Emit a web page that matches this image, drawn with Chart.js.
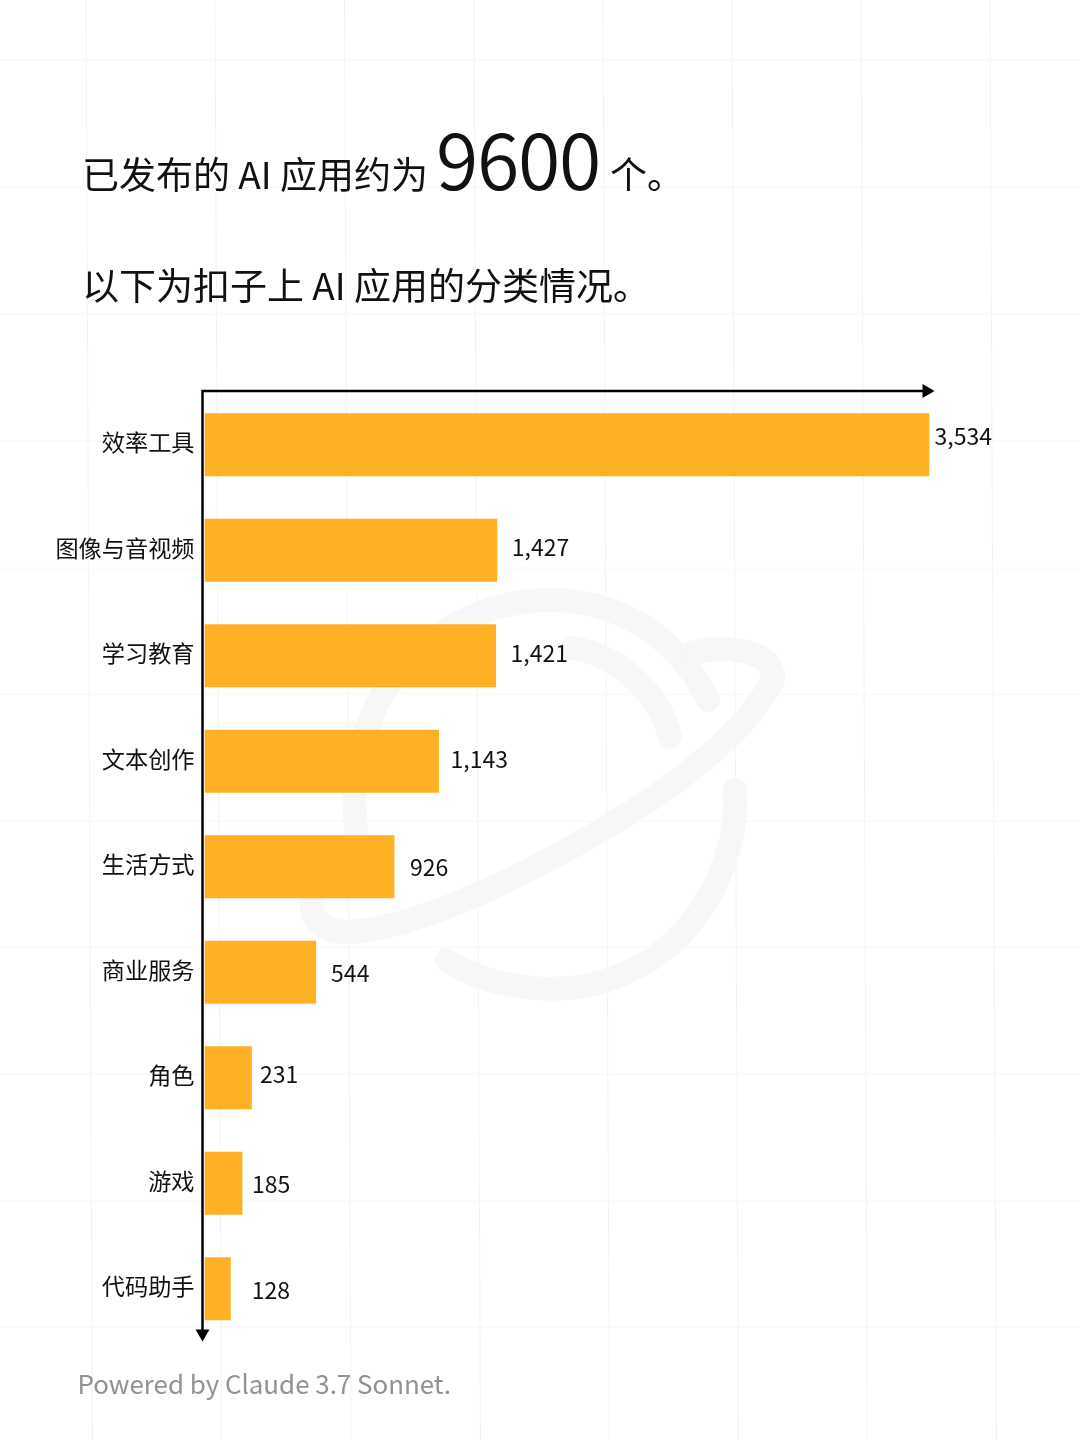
<!DOCTYPE html>
<html lang="zh">
<head>
<meta charset="utf-8">
<script src="https://cdn.jsdelivr.net/npm/chart.js@4"></script>
<style>
    html, body { margin: 0; padding: 0; background: #fff; }
    body { width: 1080px; height: 1440px; position: relative; overflow: hidden; font-family: "Noto Sans CJK SC", sans-serif; color: #111; }
    #bg { position: absolute; left: 0; top: 0; }
    #wrap { position: absolute; left: 0; top: 0; width: 1080px; height: 1440px; }
    .line { position: absolute; white-space: pre; line-height: 1; }
    #t1 { left: 82px; top: 155px; font-size: 37px; }
    #t2 { left: 82px; top: 266px; font-size: 37px; }
    #big { left: 436px; top: 118px; font-size: 77px; font-weight: 350; letter-spacing: -1.3px; }
    #t1b { left: 610px; top: 155px; font-size: 37px; }
    #foot { left: 77.5px; top: 1370px; font-size: 25.9px; color: #929292; }
</style>
</head>
<body>
<svg id="bg" width="1080" height="1440"></svg>
<div id="wrap"><canvas id="chartApps" width="1080" height="1440"></canvas></div>
<div class="line" id="t1">已发布的 AI 应用约为</div>
<div class="line" id="big">9600</div>
<div class="line" id="t1b">个。</div>
<div class="line" id="t2">以下为扣子上 AI 应用的分类情况。</div>
<div class="line" id="foot">Powered by Claude 3.7 Sonnet.</div>
<script>
    // Data
    const categories = ['效率工具', '图像与音视频', '学习教育', '文本创作', '生活方式', '商业服务', '角色', '游戏', '代码助手'];
    const appCounts = [3534, 1427, 1421, 1143, 926, 544, 231, 185, 128];

    // Value label nudges: the reference places them by hand, not evenly
    const labelGapX = [5, 14.5, 14.5, 11.5, 15.5, 15, 8, 9.5, 21];
    const labelGapY = [-8.5, -3, -2.5, -2, 0.5, 1, -3.5, 1, 1.5];

    const FONT = '"Noto Sans CJK SC", sans-serif';
    const barColor = '#FFB125';

    // Faint background grid and watermark
    const gridX = [86, 215, 344.5, 474, 603, 732, 861, 990];
    const gridY = [60, 187, 314, 441, 568, 694, 821, 947, 1074, 1201, 1327];
    let bgMarkup = '';
    gridX.forEach(function (x) {
        bgMarkup += '<line x1="' + x + '" y1="0" x2="' + (x + 6.5) + '" y2="1440" stroke="#f3f3f3" stroke-width="1"/>';
    });
    gridY.forEach(function (y) {
        bgMarkup += '<line x1="0" y1="' + y + '" x2="1080" y2="' + y + '" stroke="#f6f6f6" stroke-width="1"/>';
    });
    const stamp = [
        'M 708 700 C 680 640 620 600 552 600 C 470 600 400 650 372 715 C 354 760 350 800 358 840',
        'M 572 648 C 620 655 660 695 670 737',
        'M 692 653 C 725 645 775 648 773 680 C 745 735 670 790 607 827 C 530 872 420 930 345 932 C 315 930 305 910 316 890',
        'M 735 790 C 740 850 705 940 625 973 C 570 1000 490 990 447 960'
    ];
    stamp.forEach(function (d) {
        bgMarkup += '<path d="' + d + '" fill="none" stroke="#f7f7f7" stroke-width="24" stroke-linecap="round"/>';
    });
    document.getElementById('bg').innerHTML = bgMarkup;

    // Arrow-headed axes, drawn along the chart area edges
    const arrowAxes = {
        id: 'arrowAxes',
        afterDraw: function (chart) {
            const ctx = chart.ctx, a = chart.chartArea;
            const x0 = a.left - 2, y0 = a.top - 1;
            ctx.save();
            ctx.strokeStyle = '#000';
            ctx.fillStyle = '#000';
            ctx.lineWidth = 2.5;
            ctx.beginPath();
            ctx.moveTo(a.right - 5, y0);
            ctx.lineTo(x0, y0);
            ctx.lineTo(x0, a.bottom - 10);
            ctx.stroke();
            ctx.beginPath();
            ctx.moveTo(a.right + 5, y0);
            ctx.lineTo(a.right - 7, y0 - 7);
            ctx.lineTo(a.right - 7, y0 + 7);
            ctx.closePath();
            ctx.fill();
            ctx.beginPath();
            ctx.moveTo(x0, a.bottom);
            ctx.lineTo(x0 - 7, a.bottom - 12);
            ctx.lineTo(x0 + 7, a.bottom - 12);
            ctx.closePath();
            ctx.fill();
            ctx.restore();
        }
    };

    // Value labels at the end of each bar
    const valueLabels = {
        id: 'valueLabels',
        afterDatasetsDraw: function (chart) {
            const ctx = chart.ctx;
            ctx.save();
            ctx.font = '23px ' + FONT;
            ctx.fillStyle = '#111';
            ctx.textAlign = 'left';
            ctx.textBaseline = 'middle';
            chart.getDatasetMeta(0).data.forEach(function (bar, i) {
                ctx.fillText(appCounts[i].toLocaleString('en-US'), bar.x + labelGapX[i], bar.y + labelGapY[i]);
            });
            ctx.restore();
        }
    };

    new Chart(document.getElementById('chartApps').getContext('2d'), {
        type: 'bar',
        data: {
            labels: categories,
            datasets: [{
                data: appCounts,
                backgroundColor: barColor,
                borderWidth: 0,
                categoryPercentage: 1,
                barPercentage: 0.597
            }]
        },
        options: {
            indexAxis: 'y',
            responsive: false,
            animation: false,
            devicePixelRatio: 1,
            layout: { padding: { left: 0, right: 150.5, top: 392, bottom: 98.5 } },
            plugins: { legend: { display: false }, tooltip: { enabled: false } },
            scales: {
                x: {
                    min: 0,
                    max: 3534,
                    display: false
                },
                y: {
                    afterFit: function (axis) { axis.width = 204.5; },
                    border: { display: false },
                    grid: { display: false, drawTicks: false },
                    ticks: {
                        color: '#111',
                        font: { family: FONT, size: 23.2 },
                        padding: 10,
                        labelOffset: -2.5,
                        autoSkip: false
                    }
                }
            }
        },
        plugins: [arrowAxes, valueLabels]
    });
</script>
</body>
</html>
